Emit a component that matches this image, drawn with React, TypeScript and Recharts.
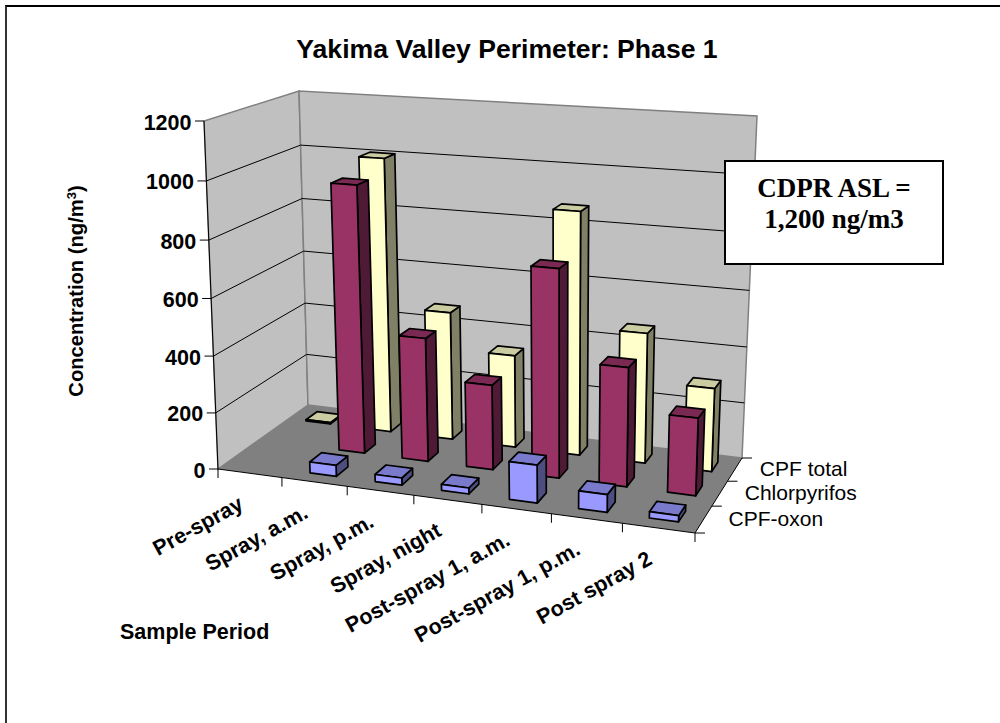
import { BarChart, Bar, XAxis, YAxis, Customized } from "recharts";

const categories = ["Pre-spray", "Spray, a.m.", "Spray, p.m.", "Spray, night", "Post-spray 1, a.m.", "Post-spray 1, p.m.", "Post spray 2"];
const oxon = [0, 39, 25, 21, 129, 60, 21];
const chlorpyrifos = [0, 955, 440, 300, 725, 412, 266];
const cpfTotal = [5, 1005, 468, 335, 868, 463, 294];
const yTicks = [0, 200, 400, 600, 800, 1000, 1200];
const depthLabels = ["CPF-oxon", "Chlorpyrifos", "CPF total"];

const W = 1000;
const H = 723;
// axes need at least 1px to draw their ticks
const PLOT_W = W - 1;
const PLOT_H = H - 1;
const FONT = "'Liberation Sans', Arial, sans-serif";

type Pt = [number, number];

// square -> quad homography, corners go (0,0) (1,0) (1,1) (0,1)
function homography(p0: Pt, p1: Pt, p2: Pt, p3: Pt) {
  const dx1 = p1[0] - p2[0], dx2 = p3[0] - p2[0], dx3 = p0[0] - p1[0] + p2[0] - p3[0];
  const dy1 = p1[1] - p2[1], dy2 = p3[1] - p2[1], dy3 = p0[1] - p1[1] + p2[1] - p3[1];
  const den = dx1 * dy2 - dx2 * dy1;
  const g = (dx3 * dy2 - dx2 * dy3) / den;
  const h = (dx1 * dy3 - dx3 * dy1) / den;
  const a = p1[0] - p0[0] + g * p1[0], b = p3[0] - p0[0] + h * p3[0];
  const d = p1[1] - p0[1] + g * p1[1], e = p3[1] - p0[1] + h * p3[1];
  return (u: number, v: number): Pt => {
    const q = g * u + h * v + 1;
    return [(a * u + b * v + p0[0]) / q, (d * u + e * v + p0[1]) / q];
  };
}

const floor = homography([218, 469], [695, 533], [742, 458], [308, 405]);
const ceiling = homography([204, 121], [707, 153], [757, 116], [299, 91]);

// u along categories, v into the page, w up the value axis
function project(u: number, v: number, w: number): Pt {
  const f = floor(u, v);
  const c = ceiling(u, v);
  const k = w * (0.96 + 0.04 * w); // slight foreshortening going up
  return [f[0] + (c[0] - f[0]) * k, f[1] + (c[1] - f[1]) * k];
}

const pts = (list: Pt[]) => list.map((p) => `${p[0].toFixed(1)},${p[1].toFixed(1)}`).join(" ");
const toU = (x: number) => (x - 1) / PLOT_W;
const toW = (y: number) => (PLOT_H - y) / PLOT_H;

const Box3D = (row: number, front: string, side: string, top: string) => (props: any) => {
  const { x, y, width, value } = props;
  const val = Array.isArray(value) ? value[1] : value;
  if (!val) return <g />;
  const u0 = toU(x);
  const u1 = toU(x + width);
  const w = toW(y);
  const v0 = (row + 0.3) / 3;
  const v1 = (row + 0.7) / 3;
  const stroke = { stroke: "#000", strokeWidth: 1.7, strokeLinejoin: "round" as const };
  return (
    <g>
      <polygon points={pts([project(u1, v0, 0), project(u1, v1, 0), project(u1, v1, w), project(u1, v0, w)])} fill={side} {...stroke} />
      <polygon points={pts([project(u0, v0, w), project(u1, v0, w), project(u1, v1, w), project(u0, v1, w)])} fill={top} {...stroke} />
      <polygon points={pts([project(u0, v0, 0), project(u1, v0, 0), project(u1, v0, w), project(u0, v0, w)])} fill={front} {...stroke} />
    </g>
  );
};

const XTick = (props: any) => {
  const { x, payload, index } = props;
  const band = PLOT_W / categories.length;
  const right = floor(toU(x + band / 2), 0);
  const mid = floor(toU(x), 0);
  const lx = mid[0] - 5;
  const ly = mid[1] + 35;
  return (
    <g>
      {index === 0 && <line x1={218} y1={469} x2={218} y2={478} stroke="#000" />}
      <line x1={right[0]} y1={right[1]} x2={right[0]} y2={right[1] + 9} stroke="#000" />
      <text x={lx} y={ly} textAnchor="end" transform={`rotate(-29 ${lx} ${ly})`} fontFamily={FONT} fontWeight="bold" fontSize={21.5} fill="#000">
        {payload.value}
      </text>
    </g>
  );
};

const YTick = (props: any) => {
  const { y, payload } = props;
  const p = project(0, 0, toW(y));
  return (
    <g>
      <line x1={p[0] - 9} y1={p[1]} x2={p[0]} y2={p[1]} stroke="#000" />
      <text x={p[0] - 12.5} y={p[1] + 8.5} textAnchor="end" fontFamily={FONT} fontWeight="bold" fontSize={21.5} fill="#000">
        {payload.value}
      </text>
    </g>
  );
};

const Walls = () => (
  <g>
    <polygon points={pts([project(0, 0, 0), project(0, 1, 0), project(0, 1, 1), project(0, 0, 1)])} fill="#c0c0c0" stroke="#808080" strokeWidth={1.5} />
    <polygon points={pts([project(0, 1, 0), project(1, 1, 0), project(1, 1, 1), project(0, 1, 1)])} fill="#c0c0c0" stroke="#808080" strokeWidth={1.5} />
    <polygon points={pts([project(0, 0, 0), project(1, 0, 0), project(1, 1, 0), project(0, 1, 0)])} fill="#808080" />
    {yTicks.slice(1, -1).map((t) => {
      const w = t / yTicks[yTicks.length - 1];
      return <polyline key={t} points={pts([project(0, 0, w), project(0, 1, w), project(1, 1, w)])} fill="none" stroke="#000" strokeWidth={1} />;
    })}
    <line x1={218} y1={469} x2={695} y2={533} stroke="#000" strokeWidth={1} />
    <line x1={695} y1={533} x2={742} y2={458} stroke="#000" strokeWidth={1} />
    <line x1={218} y1={469} x2={204} y2={121} stroke="#000" strokeWidth={1} />
    {[0, 1, 2, 3].map((i) => {
      const p = floor(1, i / 3);
      return <line key={i} x1={p[0]} y1={p[1]} x2={p[0] + 10} y2={p[1]} stroke="#000" />;
    })}
    {depthLabels.map((label, i) => {
      const p = floor(1, (i + 0.5) / 3);
      return (
        <text key={label} x={p[0] + 25} y={p[1] + 7} fontFamily={FONT} fontSize={21} fill="#000">
          {label}
        </text>
      );
    })}
    <text x={507} y={57.5} textAnchor="middle" fontFamily={FONT} fontWeight="bold" fontSize={26.6} fill="#000">
      Yakima Valley Perimeter: Phase 1
    </text>
    <text transform="translate(83 291) rotate(-90)" textAnchor="middle" fontFamily={FONT} fontWeight="bold" fontSize={20.2} fill="#000">
      Concentration (ng/m<tspan dy={-7} fontSize={13}>3</tspan><tspan dy={7}>)</tspan>
    </text>
    <text x={120} y={639} fontFamily={FONT} fontWeight="bold" fontSize={21.5} fill="#000">
      Sample Period
    </text>
  </g>
);

const Note = () => (
  <g>
    <rect x={725} y={161} width={218} height={103} fill="#fff" stroke="#000" strokeWidth={2} />
    <text x={834} y={197} textAnchor="middle" fontFamily="'Liberation Serif', serif" fontWeight="bold" fontSize={27} fill="#000">
      CDPR ASL =
    </text>
    <text x={834} y={228} textAnchor="middle" fontFamily="'Liberation Serif', serif" fontWeight="bold" fontSize={27} fill="#000">
      1,200 ng/m3
    </text>
  </g>
);

const data = categories.map((name, i) => ({ name, oxon: oxon[i], chlorpyrifos: chlorpyrifos[i], cpfTotal: cpfTotal[i] }));

export default function App() {
  return (
    <div style={{ position: "absolute", left: 0, top: 0, width: W, height: H, background: "#fff", overflow: "hidden" }}>
      <BarChart width={W} height={H} data={data} margin={{ top: 0, right: 0, bottom: 0, left: 0 }} barSize={58} barGap={-58}>
        <Customized component={Walls} />
        <XAxis dataKey="name" height={1} axisLine={false} tickLine={false} interval={0} tick={XTick} />
        <YAxis width={1} domain={[0, 1200]} ticks={yTicks} interval={0} axisLine={false} tickLine={false} tick={YTick} />
        <Bar dataKey="cpfTotal" isAnimationActive={false} shape={Box3D(2, "#ffffcc", "#808066", "#cccca3")} />
        <Bar dataKey="chlorpyrifos" isAnimationActive={false} shape={Box3D(1, "#993366", "#4f1a35", "#7a2952")} />
        <Bar dataKey="oxon" isAnimationActive={false} shape={Box3D(0, "#9999ff", "#4d4d80", "#7a7acc")} />
        <Customized component={Note} />
      </BarChart>
      <div style={{ position: "absolute", left: 5, top: 5, width: W, height: H, borderTop: "2px solid #000", borderLeft: "2px solid #333" }} />
    </div>
  );
}
